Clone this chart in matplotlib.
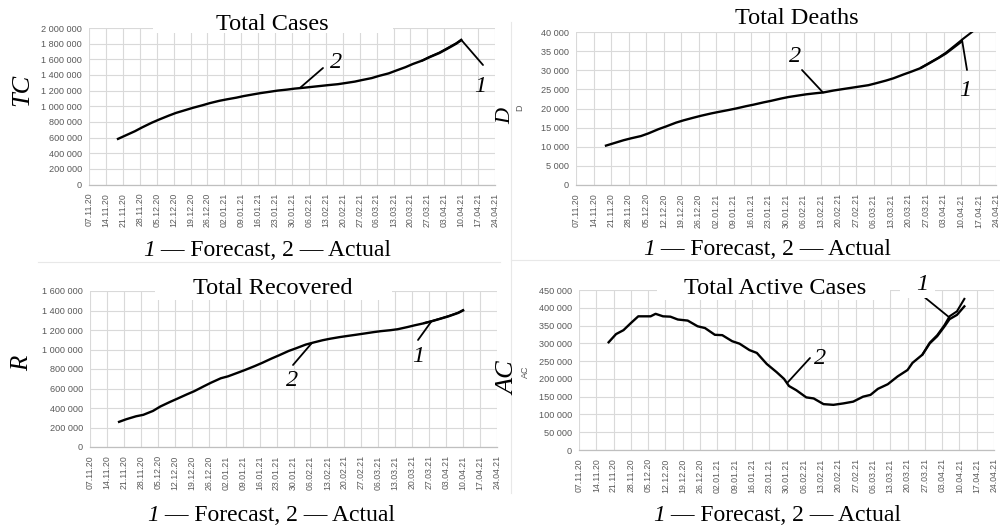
import numpy as np
import matplotlib
matplotlib.use("Agg")
import matplotlib.pyplot as plt
import matplotlib.dates as mdates
from matplotlib.ticker import FuncFormatter
from matplotlib.patches import Rectangle

# ---------------------------------------------------------------- data
BASE = np.datetime64("2020-11-07")
AXIS_WEEKS = 24

# Total cases (actual) and forecast
cases_days = [12, 15, 19, 22, 26, 29, 33, 36, 40, 43, 47, 50, 54, 57, 61, 64, 68, 71, 75, 78,
              82, 85, 89, 92, 96, 99, 103, 106, 110, 113, 117, 120, 124, 127, 131, 134, 138,
              141, 145, 148, 152, 154]
cases_actual = [583e3, 625e3, 681e3, 730e3, 790e3, 830e3, 880e3, 915e3, 952e3, 980e3,
                1013e3, 1040e3, 1070e3, 1088e3, 1110e3, 1130e3, 1152e3, 1168e3, 1186e3, 1200e3,
                1213e3, 1225e3, 1237e3, 1247e3, 1260e3, 1270e3, 1282e3, 1296e3, 1315e3, 1335e3,
                1360e3, 1388e3, 1420e3, 1455e3, 1500e3, 1540e3, 1585e3, 1628e3, 1680e3, 1730e3,
                1800e3, 1843e3]
cases_fc_days = [138, 141, 145, 148, 152, 154]
cases_forecast = [1586e3, 1632e3, 1686e3, 1737e3, 1806e3, 1850e3]

# Total deaths (actual) and forecast
deaths_days = cases_days
deaths_actual = [10.3e3, 10.9e3, 11.7e3, 12.2e3, 12.8e3, 13.5e3, 14.6e3, 15.3e3, 16.3e3, 16.9e3,
                 17.6e3, 18.1e3, 18.7e3, 19.1e3, 19.6e3, 20.0e3, 20.6e3, 21.0e3, 21.6e3, 22.0e3,
                 22.6e3, 23.0e3, 23.4e3, 23.7e3, 24.0e3, 24.2e3, 24.7e3, 25.0e3, 25.4e3, 25.7e3,
                 26.1e3, 26.6e3, 27.3e3, 27.9e3, 28.9e3, 29.6e3, 30.6e3, 31.7e3, 33.2e3, 34.4e3,
                 36.4e3, 37.4e3]
deaths_fc_days = [138, 141, 145, 148, 152, 155, 159]
deaths_forecast = [30.7e3, 31.8e3, 33.3e3, 34.6e3, 36.7e3, 38.3e3, 40.3e3]

# Total recovered (actual) and forecast
recovered_days = cases_days
recovered_actual = [258e3, 285e3, 315e3, 330e3, 370e3, 415e3, 462e3, 495e3, 540e3, 572e3,
                    623e3, 660e3, 705e3, 725e3, 762e3, 790e3, 830e3, 862e3, 908e3, 940e3,
                    985e3, 1012e3, 1050e3, 1070e3, 1095e3, 1110e3, 1127e3, 1138e3, 1152e3, 1163e3,
                    1178e3, 1188e3, 1198e3, 1208e3, 1230e3, 1248e3, 1270e3, 1289e3, 1318e3, 1340e3,
                    1375e3, 1400e3]
recovered_fc_days = [138, 141, 145, 148, 152, 154]
recovered_forecast = [1272e3, 1291e3, 1320e3, 1343e3, 1378e3, 1405e3]

# Total active cases (actual) and forecast
active_days = [12, 15, 18, 21, 24, 27, 29, 31, 34, 37, 40, 44, 48, 51, 55, 58, 62, 65, 69, 72,
               76, 80, 83, 85, 88, 92, 95, 99, 103, 107, 111, 115, 118, 121, 125, 129, 133, 135,
               139, 142, 145, 148, 150, 153, 156]
active_actual = [303e3, 326e3, 337e3, 357e3, 376e3, 376e3, 376e3, 383e3, 376e3, 375e3, 367e3,
                 364e3, 348e3, 343e3, 324e3, 323e3, 306e3, 299e3, 281e3, 273e3, 242e3, 219e3,
                 200e3, 180e3, 168e3, 148e3, 145e3, 129e3, 127e3, 131e3, 136e3, 150e3, 155e3,
                 172e3, 185e3, 207e3, 225e3, 245e3, 268e3, 300e3, 320e3, 348e3, 368e3, 380e3,
                 404e3]
active_fc_days = [139, 142, 145, 148, 150, 153, 156]
active_forecast = [268e3, 302e3, 323e3, 352e3, 376e3, 390e3, 425e3]

TITLES = ["Total Cases", "Total Deaths", "Total Recovered", "Total Active Cases"]
Y_MAX = [2_000_000, 40_000, 1_600_000, 450_000]
Y_STEP = [200_000, 5_000, 200_000, 50_000]

# ---------------------------------------------------------------- figure
W, H = 1000, 526
fig = plt.figure(figsize=(W / 100, H / 100), dpi=100)
fig.patch.set_facecolor("white")

SERIF = "Liberation Serif"
SANS = "Liberation Sans"
TICK_GRAY = "#595959"
GRID = "#d9d9d9"


def frac(x, y):
    return (x / W, 1 - y / H)


def rect(l, t, r, b):
    return [l / W, 1 - b / H, (r - l) / W, (b - t) / H]


def to_dates(days):
    return BASE + np.array(days, dtype="timedelta64[D]")


def thousands(v, _pos):
    return f"{int(round(v)):,}".replace(",", " ")


panel_rects = [rect(89, 28, 495, 184.5), rect(576, 32, 996, 185),
               rect(90, 291, 497, 447), rect(579, 290, 994, 450)]

series = [
    (cases_days, cases_actual, cases_fc_days, cases_forecast),
    (deaths_days, deaths_actual, deaths_fc_days, deaths_forecast),
    (recovered_days, recovered_actual, recovered_fc_days, recovered_forecast),
    (active_days, active_actual, active_fc_days, active_forecast),
]

week_ticks = to_dates([7 * k for k in range(AXIS_WEEKS + 1)])
axes = []
for i, r in enumerate(panel_rects):
    ax = fig.add_axes(r)
    d_act, v_act, d_fc, v_fc = series[i]
    ax.plot(to_dates(d_fc), v_fc, color="black", lw=1.5, solid_joinstyle="round", zorder=3)
    ax.plot(to_dates(d_act), v_act, color="black", lw=1.7, solid_joinstyle="round", zorder=3)
    ax.set_xlim(week_ticks[0], week_ticks[-1])
    ax.set_ylim(0, Y_MAX[i])
    ax.set_xticks(week_ticks)
    ax.xaxis.set_major_formatter(mdates.DateFormatter("%d.%m.%y"))
    ax.set_yticks(np.arange(0, Y_MAX[i] + 1, Y_STEP[i]))
    ax.yaxis.set_major_formatter(FuncFormatter(thousands))
    ax.grid(True, color=GRID, lw=0.8)
    ax.set_axisbelow(True)
    for s in ("top", "right", "left"):
        ax.spines[s].set_visible(False)
    ax.spines["bottom"].set_color("#bfbfbf")
    ax.spines["bottom"].set_linewidth(0.9)
    ax.tick_params(axis="both", length=0, colors=TICK_GRAY)
    ax.tick_params(axis="x", pad=6)
    ax.tick_params(axis="y", pad=5)
    for lab in ax.get_xticklabels():
        lab.set_rotation(90)
        lab.set_fontfamily(SANS)
        lab.set_fontsize(6.3)
    for lab in ax.get_yticklabels():
        lab.set_fontfamily(SANS)
        lab.set_fontsize(6.6)
    axes.append(ax)

# faint frame lines between the chart blocks
for (x0, y0, x1, y1) in [(511, 22, 511, 493), (511, 260, 1000, 260), (38, 262, 500, 262)]:
    fig.add_artist(plt.Line2D([x0 / W, x1 / W], [1 - y0 / H, 1 - y1 / H],
                              transform=fig.transFigure, color="#e8e8e8", lw=0.8, zorder=1))

# white boxes behind titles and top labels
for (l, t, r, b) in [(153, 2, 393, 33), (155, 276, 392, 300), (657, 276, 890, 300),
                     (900, 270, 935, 298)]:
    fig.add_artist(Rectangle(frac(l, b), (r - l) / W, (b - t) / H, transform=fig.transFigure,
                             facecolor="white", edgecolor="none", zorder=3))

# titles
for (txt, x, y) in zip(TITLES, [272, 797, 273, 775], [30, 24, 294, 294]):
    fig.text(*frac(x, y), txt, ha="center", va="baseline", family=SERIF, fontsize=17.5,
             zorder=4)

# captions under each panel: italic "1", then the rest upright
for (x_start, y) in [(143, 256), (643, 255), (147, 521), (653, 521)]:
    split = x_start + 12
    fig.text(*frac(split, y), "1", ha="right", va="baseline", family=SERIF, style="italic",
             fontsize=17, zorder=4)
    fig.text(*frac(split, y), " \u2014 Forecast, 2 \u2014 Actual", ha="left", va="baseline",
             family=SERIF, fontsize=17, zorder=4)

# axis letters
for (txt, x, y, size) in [("TC", 22, 90, 19), ("D", 506, 116, 16), ("R", 22, 363, 18),
                          ("AC", 508, 378, 19)]:
    fig.text(*frac(x, y), txt, ha="center", va="center", rotation=90, family=SERIF,
             style="italic", fontsize=size, zorder=4)
for (txt, x, y) in [("D", 520, 108), ("AC", 525, 372)]:
    fig.text(*frac(x, y), txt, ha="center", va="center", rotation=90, family=SANS,
             fontsize=6.5, color=TICK_GRAY, zorder=4)


# curve labels with leader lines
def leader(ax, days, values, tip_day, tail_px):
    tip_val = np.interp(tip_day, days, values)
    tip = mdates.date2num(to_dates([0])[0]) + tip_day
    ax.annotate("", xy=(tip, tip_val), xycoords="data", xytext=frac(*tail_px),
                textcoords="figure fraction", annotation_clip=False,
                arrowprops=dict(arrowstyle="-", color="black", lw=1.3, shrinkA=0, shrinkB=0))


labels = [
    # (panel, series id, tip day, tail px, text, text px)
    (0, "a", 87.2, (323, 68), "2", (336, 63)),
    (0, "f", 154.0, (483, 65), "1", (480, 87)),
    (1, "a", 98.8, (802, 70), "2", (795, 57)),
    (1, "f", 154.4, (967, 70), "1", (965, 91)),
    (2, "a", 91.6, (293, 365), "2", (292, 380)),
    (2, "f", 141.0, (418, 340), "1", (418, 356)),
    (3, "a", 84.2, (810, 358), "2", (820, 358)),
    (3, "f", 149.8, (923, 296), "1", (922, 284)),
]
for (p, sid, tday, tail, txt, tpos) in labels:
    d_act, v_act, d_fc, v_fc = series[p]
    if sid == "a":
        leader(axes[p], d_act, v_act, tday, tail)
    else:
        leader(axes[p], d_fc, v_fc, tday, tail)
    fig.text(*frac(*tpos), txt, ha="center", va="center", family=SERIF, style="italic",
             fontsize=17.5, zorder=5)

fig.savefig("out.png", dpi=100, facecolor="white")
